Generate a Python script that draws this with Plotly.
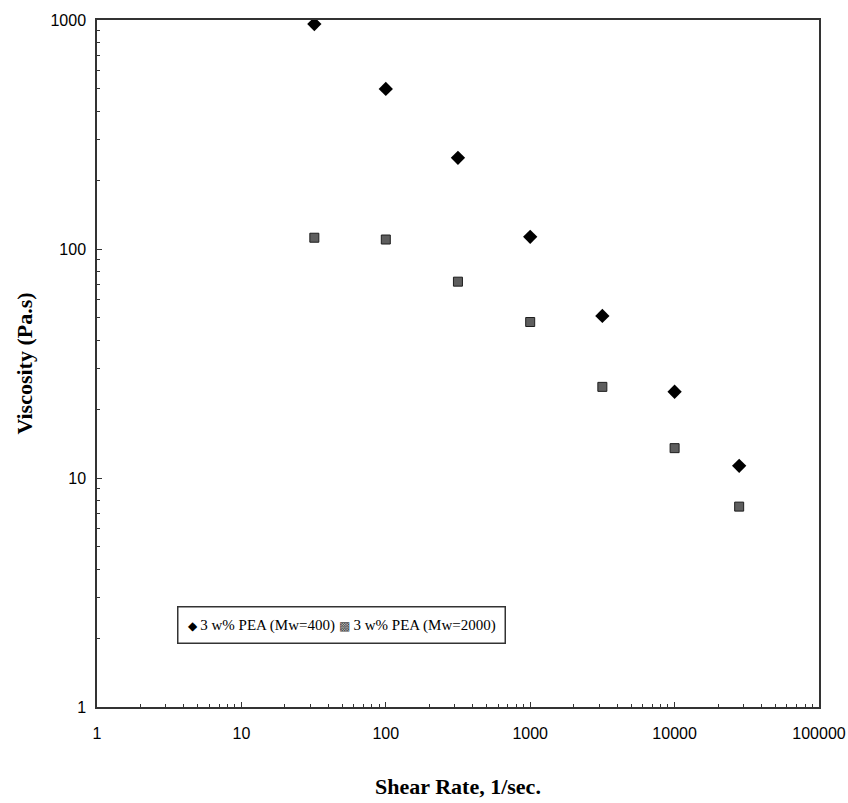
import plotly.graph_objects as go

# Shear rate (1/sec) and viscosity (Pa.s) for the two PEA blends
shear_rate = [32, 100, 316, 1000, 3160, 10000, 28000]
visc_mw400 = [960, 500, 250, 113, 51, 23.8, 11.3]
visc_mw2000 = [112, 110, 72, 48, 25, 13.5, 7.5]

name_mw400 = "3 w% PEA (Mw=400)"
name_mw2000 = "3 w% PEA (Mw=2000)"

x_ticks = [1, 10, 100, 1000, 10000, 100000]
y_ticks = [1, 10, 100, 1000]


def minor_positions(decades):
    """2..9 within each decade, for log-axis minor ticks."""
    return [m * 10 ** d for d in decades for m in range(2, 10)]


fig = go.Figure()
fig.add_trace(go.Scatter(
    x=shear_rate, y=visc_mw400, mode="markers", name=name_mw400,
    marker=dict(symbol="diamond", size=11, color="black"),
))
fig.add_trace(go.Scatter(
    x=shear_rate, y=visc_mw2000, mode="markers", name=name_mw2000,
    marker=dict(symbol="square", size=9, color="#5e5e5e",
                line=dict(color="#1e1e1e", width=1)),
))

serif = "Liberation Serif, Times New Roman, serif"
sans = "Liberation Sans, Arial, sans-serif"

axis_common = dict(
    type="log",
    showgrid=False,
    zeroline=False,
    showline=True,
    linecolor="#333",
    linewidth=1.5,
    mirror=True,
    ticks="inside",
    ticklen=5,
    tickcolor="#333",
    tickfont=dict(family=sans, size=16, color="black"),
)

fig.update_xaxes(
    **axis_common,
    range=[0, 5],
    tickvals=x_ticks,
    ticktext=[str(v) for v in x_ticks],
    ticklabelstandoff=11,
    minor=dict(ticks="inside", ticklen=3, tickcolor="#333", showgrid=False,
               tickvals=minor_positions(range(0, 5))),
    title=dict(text="<b>Shear Rate, 1/sec.</b>",
               font=dict(family=serif, size=22, color="black"),
               standoff=38),
)
fig.update_yaxes(
    **axis_common,
    range=[0, 3],
    tickvals=y_ticks,
    ticktext=[str(v) for v in y_ticks],
    ticklabelstandoff=6,
    minor=dict(ticks="inside", ticklen=3, tickcolor="#333", showgrid=False,
               tickvals=minor_positions(range(0, 3))),
    title=dict(text="<b>Viscosity (Pa.s)</b>",
               font=dict(family=serif, size=22, color="black"),
               standoff=12),
)

# Boxed key laid out on one line inside the plot area
legend_text = (
    '<span style="font-size:12px">◆</span> ' + name_mw400 + ' '
    '<span style="font-size:12px;color:#444">▩</span> ' + name_mw2000
)
fig.add_annotation(
    xref="paper", yref="paper",
    x=0.111, y=0.147, xanchor="left", yanchor="top",
    text=legend_text, showarrow=False,
    font=dict(family=serif, size=15, color="black"),
    bgcolor="white", bordercolor="#333", borderwidth=1.5, borderpad=9,
)

fig.update_layout(
    width=848, height=803,
    margin=dict(l=97, r=29, t=20, b=96, autoexpand=False),
    paper_bgcolor="white",
    plot_bgcolor="white",
    showlegend=False,
)

fig.write_html("out.html")
